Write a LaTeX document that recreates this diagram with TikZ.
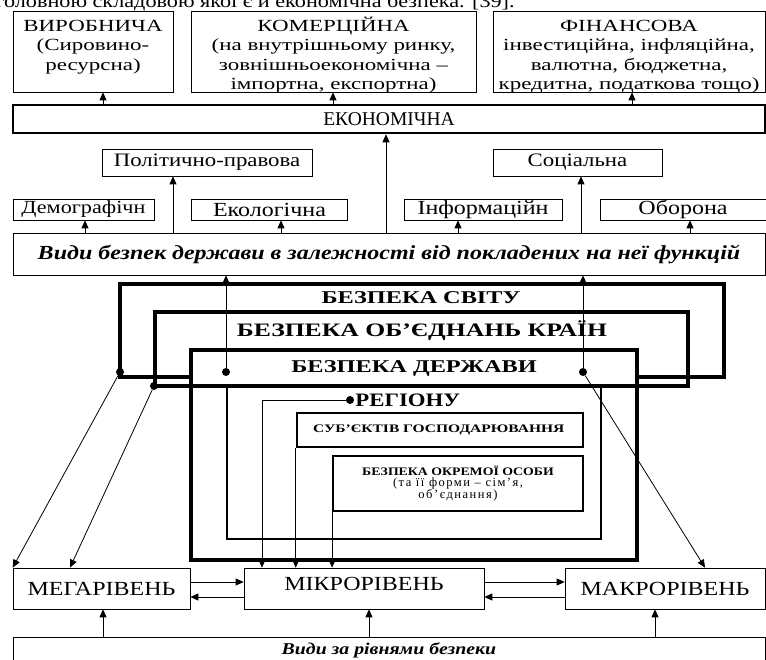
\documentclass[tikz,border=0pt]{standalone}
\usepackage{fontspec}
\setmainfont[FakeStretch=1.2]{Liberation Serif}
\newfontfamily\widefont[FakeStretch=1.35]{Liberation Serif}
\newfontfamily\plainfont{Liberation Serif}
\newfontfamily\spacedfont[LetterSpace=12]{Liberation Serif}
\usetikzlibrary{arrows.meta}
\newcommand{\topbox}[3]{\parbox[c][#2pt][t]{#1pt}{\centering\rule{0pt}{20pt}#3}}

\begin{document}
\begin{tikzpicture}[x=1pt,y=-1pt,
    box/.style={draw,line width=0.7pt,fill=white,inner sep=0pt,align=center},
    arr/.style={line width=0.8pt,-{Triangle[length=8pt,width=7pt]}},
    dot/.style={circle,fill,inner sep=0pt,minimum size=8pt}]
    \useasboundingbox (0,0) rectangle (766,659);
    \node[anchor=base west] (intro) at (-8,7.5) {\fontsize{18.5}{24}\selectfont головною складовою якої є й економічна безпека. [39].};
    \node[box] (viro) at (93,51.5) {\topbox{160}{81}{\fontsize{17}{19.5}\selectfont\widefont ВИРОБНИЧА\\(Сировино-\\ресурсна)}};
    \node[box] (komer) at (333.5,51.5) {\topbox{285}{81}{\fontsize{17}{19.5}\selectfont\widefont КОМЕРЦІЙНА\\(на внутрішньому ринку,\\зовнішньоекономічна –\\імпортна, експортна)}};
    \node[box] (fin) at (629,51.5) {\topbox{272}{81}{\fontsize{17}{19.5}\selectfont\widefont ФІНАНСОВА\\інвестиційна, інфляційна,\\валютна, бюджетна,\\кредитна, податкова тощо)}};
    \node[box,line width=2.5pt,minimum width=752,minimum height=28,font=\fontsize{19.5}{20}\selectfont\plainfont] (ekon) at (389,119) {ЕКОНОМІЧНА};
    \node[box,minimum width=210,minimum height=27,font=\fontsize{19}{22}\selectfont] (polit) at (207,162.5) {Політично-правова};
    \node[box,minimum width=169,minimum height=27,font=\fontsize{19}{22}\selectfont] (soc) at (577.5,162.5) {Соціальна};
    \node[box,minimum width=141,minimum height=21,font=\fontsize{18.5}{22}\selectfont] (demo) at (83.5,209.5) {Демографічн};
    \node[box,minimum width=156,minimum height=21,font=\fontsize{20}{22}\selectfont] (eko) at (269.5,209.5) {Екологічна};
    \node[box,minimum width=158,minimum height=21,font=\fontsize{20}{22}\selectfont] (inf) at (483,209.5) {Інформаційн};
    \node[box,minimum width=166,minimum height=21,font=\fontsize{20}{22}\selectfont] (obor) at (683,209.5) {Оборона};
    \node[box,minimum width=752,minimum height=42,font=\fontsize{20}{22}\selectfont\bfseries\itshape] (vydy) at (389,254) {Види безпек держави в залежності від покладених на неї функцій};
    \draw[arr] (ekon.north -| 103,0) -- (viro.south -| 103,0);
    \draw[arr] (ekon.north -| 333,0) -- (komer.south -| 333,0);
    \draw[arr] (ekon.north -| 632,0) -- (fin.south -| 632,0);
    \draw[arr] (vydy.north -| 386,0) -- (ekon.south -| 386,0);
    \draw[arr] (vydy.north -| 173,0) -- (polit.south -| 173,0);
    \draw[arr] (vydy.north -| 581,0) -- (soc.south -| 581,0);
    \draw[arr] (vydy.north -| 85,0) -- (demo.south -| 85,0);
    \draw[arr] (vydy.north -| 281,0) -- (eko.south -| 281,0);
    \draw[arr] (vydy.north -| 458,0) -- (inf.south -| 458,0);
    \draw[arr] (vydy.north -| 690,0) -- (obor.south -| 690,0);

    \draw[line width=3.5pt] (120,284) rectangle (724,377);
    \draw[line width=4pt,fill=white] (191,350) rectangle (637,560);
    \draw[line width=3.5pt] (155,312) rectangle (688,386);
    \draw[line width=2.5pt] (227,386) rectangle (601,539);
    \node[box,line width=2.5pt,minimum width=286,minimum height=34,text width=254,align=left,inner xsep=16pt,font=\fontsize{11.5}{14}\selectfont\widefont\bfseries] (subj) at (440,430) {СУБ’ЄКТІВ ГОСПОДАРЮВАННЯ};
    \node[box,line width=1.8pt,minimum width=250,minimum height=55] (osoby) at (458,483.5) {{\fontsize{11.5}{14}\selectfont\bfseries БЕЗПЕКА ОКРЕМОЇ ОСОБИ}\\[-1pt]{\fontsize{12.5}{15}\selectfont\spacedfont (та її форми – сім’я,}\\{\fontsize{12.5}{15}\selectfont\spacedfont об’єднання)}};
    \node[font=\fontsize{18}{20}\selectfont\widefont\bfseries] (world) at (421,298) {БЕЗПЕКА СВІТУ};
    \node[font=\fontsize{19}{20}\selectfont\widefont\bfseries] (union) at (422,331) {БЕЗПЕКА ОБ’ЄДНАНЬ КРАЇН};
    \node[font=\fontsize{18}{20}\selectfont\widefont\bfseries] (state) at (414,368) {БЕЗПЕКА ДЕРЖАВИ};
    \node[dot] (wd) at (120,372) {};
    \node[dot] (ud) at (154,386) {};
    \node[dot] (sl) at (226,372) {};
    \node[dot] (sr) at (583,372) {};
    \node[dot] (rd) at (350,400) {};
    \node[anchor=west,inner sep=1pt,font=\fontsize{19}{20}\selectfont\bfseries] (region) at (rd.east) {РЕГІОНУ};

    \node[box,minimum width=177,minimum height=41,font=\fontsize{20}{24}\selectfont] (mega) at (101.5,588.5) {МЕГАРІВЕНЬ};
    \node[box,minimum width=240,minimum height=41,font=\fontsize{20}{24}\selectfont] (mikro) at (364,588.5) {\raisebox{10pt}{МІКРОРІВЕНЬ}};
    \node[box,minimum width=200,minimum height=41,font=\fontsize{20}{24}\selectfont] (makro) at (665,588.5) {МАКРОРІВЕНЬ};
    \node[box,minimum width=752,minimum height=26,font=\fontsize{16.5}{22}\selectfont\bfseries\itshape] (levels) at (389,650) {Види за рівнями безпеки};

    \draw[arr] (sl) -- (vydy.south -| sl);
    \draw[arr] (sr) -- (vydy.south -| sr);
    \draw[arr] (wd) -- (mega.north west);
    \draw[arr] (ud) -- (mega.north -| 70,0);
    \draw[arr] (sr) -- (makro.north -| 705,0);
    \draw[arr] (rd) -| (mikro.north -| 262,0);
    \draw[arr] (subj.south west) -- (subj.south west |- mikro.north);
    \draw[arr] (osoby.south west) -- (osoby.south west |- mikro.north);
    \draw[arr] (mega.east |- 0,582) -- (mikro.west |- 0,582);
    \draw[arr] (mikro.west |- 0,597) -- (mega.east |- 0,597);
    \draw[arr] (mikro.east |- 0,582) -- (makro.west |- 0,582);
    \draw[arr] (makro.west |- 0,597) -- (mikro.east |- 0,597);
    \draw[arr] (levels.north -| 103,0) -- (mega.south -| 103,0);
    \draw[arr] (levels.north -| 369,0) -- (mikro.south -| 369,0);
    \draw[arr] (levels.north -| 655,0) -- (makro.south -| 655,0);
\end{tikzpicture}
\end{document}
